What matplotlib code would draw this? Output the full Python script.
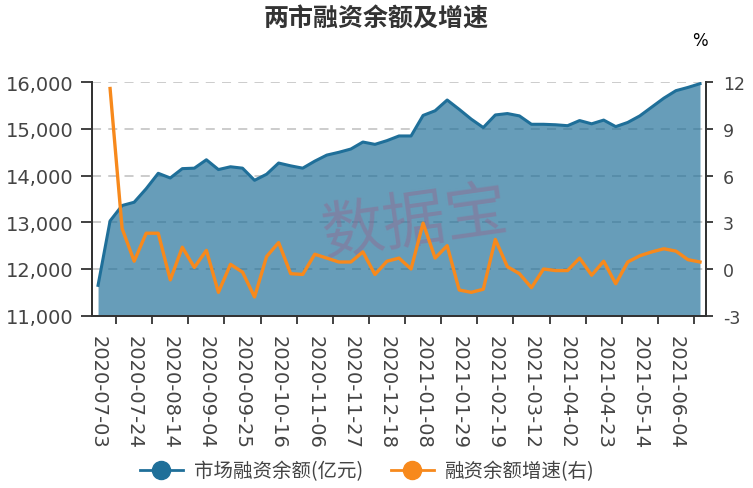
import numpy as np
import matplotlib.pyplot as plt
from matplotlib.lines import Line2D

plt.rcParams['font.family'] = ['Noto Sans CJK SC', 'DejaVu Sans']

# weekly data, 2020-07-03 .. 2021-06-18
balance = [11650, 13030, 13360, 13430, 13720, 14050, 13950, 14150, 14160, 14340,
           14130, 14190, 14160, 13900, 14030, 14270, 14210, 14160, 14310, 14440,
           14500, 14570, 14720, 14670, 14750, 14850, 14850, 15290, 15390, 15620,
           15420, 15210, 15030, 15300, 15330, 15280, 15100, 15100, 15090, 15070,
           15180, 15110, 15190, 15050, 15140, 15280, 15470, 15660, 15820, 15890,
           15970]
growth = [np.nan, 11.6, 2.6, 0.5, 2.3, 2.3, -0.7, 1.4, 0.1, 1.2,
          -1.5, 0.3, -0.2, -1.8, 0.8, 1.7, -0.3, -0.35, 0.95, 0.7,
          0.45, 0.45, 1.1, -0.35, 0.5, 0.7, 0.0, 2.95, 0.7, 1.5,
          -1.35, -1.5, -1.3, 1.9, 0.15, -0.3, -1.2, 0.0, -0.1, -0.1,
          0.7, -0.4, 0.5, -0.95, 0.45, 0.85, 1.1, 1.3, 1.15, 0.6,
          0.45]
tick_labels = ['2020-07-03', '2020-07-24', '2020-08-14', '2020-09-04', '2020-09-25',
               '2020-10-16', '2020-11-06', '2020-11-27', '2020-12-18', '2021-01-08',
               '2021-01-29', '2021-02-19', '2021-03-12', '2021-04-02', '2021-04-23',
               '2021-05-14', '2021-06-04']

blue = '#1f6f99'
orange = '#f7891c'
axis_col = '#333333'
text_col = '#444444'

x = np.arange(len(balance))

fig = plt.figure(figsize=(7.53, 4.89), dpi=100)
ax = fig.add_axes([0.1222, 0.3524, 0.8154, 0.4773])
ax.set_xlim(-0.5, len(balance) - 0.5)
ax.set_ylim(11000, 16000)
yt = list(range(11000, 16001, 1000))
ax.set_yticks(yt)
ax.set_yticklabels([f'{v:,}' for v in yt], family='DejaVu Sans', fontsize=14, color=text_col)
ax.grid(axis='y', color='#c8c8c8', linestyle=(0, (5, 4)), linewidth=1.3)
ax.set_axisbelow(True)

ax.fill_between(x, balance, 11000, color=blue, alpha=0.68, linewidth=0)
ax.plot(x, balance, color=blue, lw=2.2)

# x ticks: labels every 3 weeks, tick marks offset between categories
ax.set_xticks(x[::3])
ax.set_xticklabels(tick_labels, rotation=-90, family='DejaVu Sans', fontsize=14,
                   color=text_col, va='top', ha='center')
ax.set_xticks(np.arange(1.5, len(balance), 3), minor=True)
ax.tick_params(axis='x', which='major', length=0, pad=14)
ax.tick_params(axis='x', which='minor', length=6, width=1.3, color=axis_col)
ax.tick_params(axis='y', length=8, width=1.3, color=axis_col, pad=5)

ax.spines['top'].set_visible(False)
for s in ['left', 'bottom', 'right']:
    ax.spines[s].set_color(axis_col)
    ax.spines[s].set_linewidth(1.3)

# watermark
ax.text(415 / 753, 1 - 224 / 489, '数据宝', transform=fig.transFigure, fontsize=45,
        color='#8c7096', alpha=0.55, rotation=8, ha='center', va='center')

ax2 = ax.twinx()
ax2.set_ylim(-3, 12)
ax2.set_yticks(range(-3, 13, 3))
ax2.set_yticklabels([str(v) for v in range(-3, 13, 3)], family='DejaVu Sans',
                    fontsize=12.5, color=text_col)
ax2.tick_params(axis='y', length=5, width=1.3, color=axis_col, pad=7)
ax2.plot(x, growth, color=orange, lw=2.4)
ax2.spines['top'].set_visible(False)
for s in ['left', 'bottom', 'right']:
    ax2.spines[s].set_color(axis_col)
    ax2.spines[s].set_linewidth(1.3)

fig.text(0.5, 1 - 19 / 489, '两市融资余额及增速', fontsize=18, weight='bold',
         color='#333333', ha='center', va='center')
fig.text(700 / 753, 1 - 41 / 489, '%', fontsize=12, color='black',
         ha='center', va='center', family='DejaVu Sans')

handles = [Line2D([0], [0], color=blue, lw=2, marker='o', markersize=13),
           Line2D([0], [0], color=orange, lw=2, marker='o', markersize=13)]
fig.legend(handles, ['市场融资余额(亿元)', '融资余额增速(右)'], loc='center',
           bbox_to_anchor=(0.488, 0.035), ncol=2, frameon=False, fontsize=14,
           handlelength=2.2, handletextpad=0.6, columnspacing=1.4, labelcolor=text_col)

fig.savefig('out.png', dpi=100)
